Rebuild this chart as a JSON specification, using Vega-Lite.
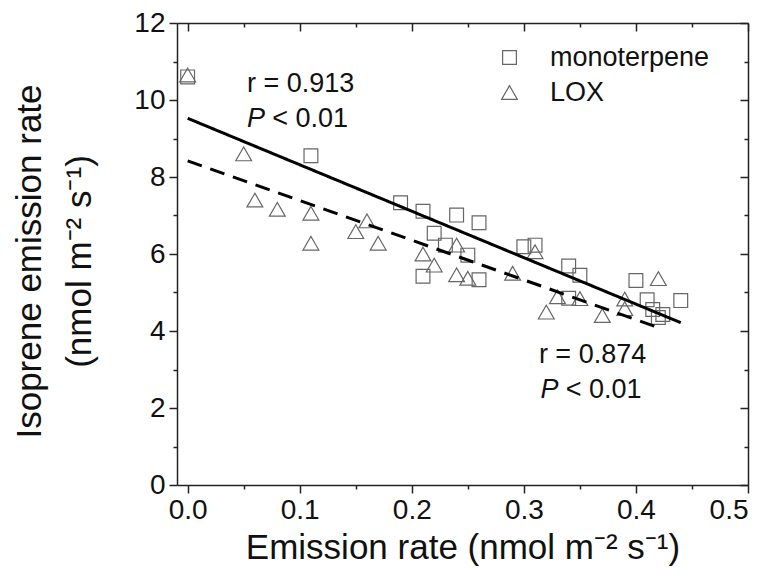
{
  "$schema": "https://vega.github.io/schema/vega-lite/v6.json",
  "width": 571,
  "height": 462,
  "autosize": {"type": "none"},
  "padding": {"left": 177, "top": 23, "right": 25, "bottom": 100},
  "background": "white",
  "config": {
    "view": {"stroke": null},
    "font": "Liberation Sans",
    "axis": {
      "domainColor": "#222",
      "domainWidth": 1.5,
      "tickColor": "#222",
      "tickWidth": 1.5,
      "labelFont": "Liberation Sans",
      "labelFontSize": 28,
      "labelColor": "#111",
      "grid": false,
      "titleFont": "Liberation Sans",
      "titleColor": "#111",
      "titleFontWeight": "normal"
    }
  },
  "datasets": {
    "pts": [
      {"x": 0.0, "y": 10.6, "series": "monoterpene"},
      {"x": 0.11, "y": 8.55, "series": "monoterpene"},
      {"x": 0.19, "y": 7.33, "series": "monoterpene"},
      {"x": 0.21, "y": 7.11, "series": "monoterpene"},
      {"x": 0.22, "y": 6.54, "series": "monoterpene"},
      {"x": 0.23, "y": 6.23, "series": "monoterpene"},
      {"x": 0.24, "y": 7.01, "series": "monoterpene"},
      {"x": 0.25, "y": 5.97, "series": "monoterpene"},
      {"x": 0.26, "y": 6.81, "series": "monoterpene"},
      {"x": 0.21, "y": 5.42, "series": "monoterpene"},
      {"x": 0.26, "y": 5.33, "series": "monoterpene"},
      {"x": 0.30, "y": 6.19, "series": "monoterpene"},
      {"x": 0.31, "y": 6.23, "series": "monoterpene"},
      {"x": 0.34, "y": 5.69, "series": "monoterpene"},
      {"x": 0.35, "y": 5.45, "series": "monoterpene"},
      {"x": 0.34, "y": 4.85, "series": "monoterpene"},
      {"x": 0.40, "y": 5.31, "series": "monoterpene"},
      {"x": 0.41, "y": 4.81, "series": "monoterpene"},
      {"x": 0.415, "y": 4.56, "series": "monoterpene"},
      {"x": 0.424, "y": 4.43, "series": "monoterpene"},
      {"x": 0.42, "y": 4.35, "series": "monoterpene"},
      {"x": 0.44, "y": 4.79, "series": "monoterpene"},
      {"x": 0.0, "y": 10.65, "series": "LOX"},
      {"x": 0.05, "y": 8.6, "series": "LOX"},
      {"x": 0.06, "y": 7.4, "series": "LOX"},
      {"x": 0.08, "y": 7.16, "series": "LOX"},
      {"x": 0.11, "y": 7.06, "series": "LOX"},
      {"x": 0.11, "y": 6.28, "series": "LOX"},
      {"x": 0.15, "y": 6.58, "series": "LOX"},
      {"x": 0.16, "y": 6.86, "series": "LOX"},
      {"x": 0.17, "y": 6.28, "series": "LOX"},
      {"x": 0.21, "y": 6.0, "series": "LOX"},
      {"x": 0.22, "y": 5.71, "series": "LOX"},
      {"x": 0.24, "y": 6.23, "series": "LOX"},
      {"x": 0.24, "y": 5.46, "series": "LOX"},
      {"x": 0.25, "y": 5.37, "series": "LOX"},
      {"x": 0.29, "y": 5.5, "series": "LOX"},
      {"x": 0.31, "y": 6.06, "series": "LOX"},
      {"x": 0.33, "y": 4.89, "series": "LOX"},
      {"x": 0.35, "y": 4.84, "series": "LOX"},
      {"x": 0.32, "y": 4.49, "series": "LOX"},
      {"x": 0.37, "y": 4.4, "series": "LOX"},
      {"x": 0.39, "y": 4.83, "series": "LOX"},
      {"x": 0.39, "y": 4.58, "series": "LOX"},
      {"x": 0.42, "y": 5.36, "series": "LOX"}
    ],
    "fits": [
      {"x": 0.0, "y": 9.525, "fit": "monoterpene fit"},
      {"x": 0.44, "y": 4.216, "fit": "monoterpene fit"},
      {"x": 0.0, "y": 8.42, "fit": "LOX fit"},
      {"x": 0.419, "y": 4.10, "fit": "LOX fit"}
    ],
    "notes": [
      {"x": 0.053, "y": 10.2, "label": "r = 0.913"},
      {"x": 0.0754, "y": 9.31, "label": "< 0.01"},
      {"x": 0.3134, "y": 3.16, "label": "r = 0.874"},
      {"x": 0.3373, "y": 2.27, "label": "< 0.01"}
    ],
    "notesItalic": [
      {"x": 0.053, "y": 9.31, "label": "P"},
      {"x": 0.3149, "y": 2.27, "label": "P"}
    ]
  },
  "layer": [
    {
      "data": {"name": "pts"},
      "mark": {"type": "point", "filled": false, "color": "#666", "strokeWidth": 1.2, "opacity": 1},
      "encoding": {
        "x": {
          "field": "x", "type": "quantitative",
          "scale": {"domain": [-0.0095, 0.5], "nice": false, "zero": false},
          "axis": {
            "orient": "bottom",
            "values": [0, 0.1, 0.2, 0.3, 0.4, 0.5],
            "format": ".1f",
            "tickSize": 8,
            "labelPadding": 3,
            "title": "Emission rate (nmol m⁻² s⁻¹)",
            "titleFontSize": 35,
            "titlePadding": 6
          }
        },
        "y": {
          "field": "y", "type": "quantitative",
          "scale": {"domain": [0, 12], "nice": false, "zero": false},
          "axis": {
            "orient": "left",
            "values": [0, 2, 4, 6, 8, 10, 12],
            "tickSize": 8,
            "labelPadding": 4,
            "title": ["Isoprene emission rate", "(nmol m⁻² s⁻¹)"],
            "titleFontSize": 35,
            "titleLineHeight": 50,
            "titleBaseline": "alphabetic",
            "titleAngle": -90,
            "titleAlign": "center",
            "titleX": -137,
            "titleY": 238
          }
        },
        "shape": {
          "field": "series", "type": "nominal",
          "scale": {"domain": ["monoterpene", "LOX"], "range": ["square", "triangle-up"]},
          "legend": {
            "orient": "none",
            "legendX": 319,
            "legendY": 21,
            "title": null,
            "padding": 0,
            "labelFont": "Liberation Sans",
            "labelFontSize": 27,
            "labelColor": "#111",
            "labelOffset": 27,
            "rowPadding": 7,
            "symbolStrokeColor": "#666",
            "symbolFillColor": "transparent",
            "symbolStrokeWidth": 1.2
          }
        },
        "size": {
          "field": "series", "type": "nominal",
          "scale": {"domain": ["monoterpene", "LOX"], "range": [190, 250]}
        }
      }
    },
    {
      "data": {"name": "fits"},
      "mark": {"type": "line", "color": "black", "strokeWidth": 3},
      "encoding": {
        "x": {
          "field": "x", "type": "quantitative",
          "scale": {"domain": [-0.0095, 0.5], "nice": false, "zero": false},
          "axis": {"orient": "top", "values": [0, 0.1, 0.2, 0.3, 0.4, 0.5], "labels": false, "tickSize": -8, "title": null}
        },
        "y": {
          "field": "y", "type": "quantitative",
          "scale": {"domain": [0, 12], "nice": false, "zero": false},
          "axis": {"orient": "right", "values": [0, 2, 4, 6, 8, 10, 12], "labels": false, "tickSize": -8, "title": null}
        },
        "detail": {"field": "fit", "type": "nominal"},
        "strokeDash": {
          "field": "fit", "type": "nominal",
          "scale": {"domain": ["monoterpene fit", "LOX fit"], "range": [[1, 0], [15, 9]]},
          "legend": null
        }
      }
    },
    {
      "data": {"name": "notes"},
      "mark": {"type": "text", "align": "left", "baseline": "alphabetic", "fontSize": 27, "color": "#111", "font": "Liberation Sans"},
      "encoding": {
        "x": {
          "field": "x", "type": "quantitative",
          "scale": {"domain": [-0.0095, 0.5], "nice": false, "zero": false},
          "axis": {"orient": "bottom", "values": [0.05, 0.15, 0.25, 0.35, 0.45], "labels": false, "domain": false, "tickSize": 4, "title": null}
        },
        "y": {
          "field": "y", "type": "quantitative",
          "scale": {"domain": [0, 12], "nice": false, "zero": false},
          "axis": {"orient": "left", "values": [1, 3, 5, 7, 9, 11], "labels": false, "domain": false, "tickSize": 4, "title": null}
        },
        "text": {"field": "label", "type": "nominal"}
      }
    },
    {
      "data": {"name": "notesItalic"},
      "mark": {"type": "text", "align": "left", "baseline": "alphabetic", "fontSize": 27, "fontStyle": "italic", "color": "#111", "font": "Liberation Sans"},
      "encoding": {
        "x": {
          "field": "x", "type": "quantitative",
          "scale": {"domain": [-0.0095, 0.5], "nice": false, "zero": false},
          "axis": {"orient": "top", "values": [0.05, 0.15, 0.25, 0.35, 0.45], "labels": false, "domain": false, "tickSize": -4, "title": null}
        },
        "y": {
          "field": "y", "type": "quantitative",
          "scale": {"domain": [0, 12], "nice": false, "zero": false},
          "axis": {"orient": "right", "values": [1, 3, 5, 7, 9, 11], "labels": false, "domain": false, "tickSize": -4, "title": null}
        },
        "text": {"field": "label", "type": "nominal"}
      }
    }
  ],
  "resolve": {"axis": {"x": "independent", "y": "independent"}}
}
